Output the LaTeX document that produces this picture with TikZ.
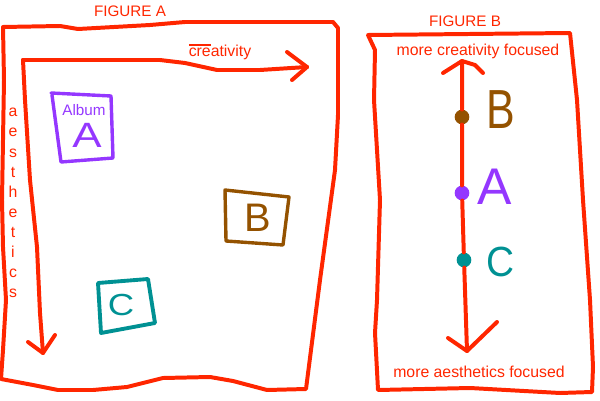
\documentclass[tikz,border=0pt]{standalone}
\usepackage{fontspec}
\setmainfont{Liberation Sans}
\usepackage{xcolor}
\usepackage{tikz}
\usetikzlibrary{positioning}
\definecolor{penred}{RGB}{255,38,0}
\definecolor{penpurple}{RGB}{148,55,255}
\definecolor{penbrown}{RGB}{148,82,0}
\definecolor{penteal}{RGB}{0,145,147}
\tikzset{
    pen/.style={
        draw=penred,
        line width=3.4pt,
        line cap=round,
        line join=round
    }
}
\tikzset{
    box/.style={
        line width=2.9pt,
        line cap=round,
        line join=round
    }
}
\tikzset{
    caption/.style={
        text=penred,
        inner sep=0pt,
        font=\fontsize{13.5}{16}\selectfont
    }
}
\tikzset{
    title/.style={
        text=penred,
        inner sep=0pt,
        font=\fontsize{13}{16}\selectfont
    }
}
\tikzset{
    letter/.style={
        inner sep=0pt
    }
}
\tikzset{
    dot/.style={
        circle,
        inner sep=0pt,
        minimum size=12.5pt
    }
}

\begin{document}
\begin{tikzpicture}[
    x=0.03cm,
    y=-0.03cm
]

\useasboundingbox (0,0) rectangle (600,400);

% ------------------------------------------------------------
% Figure A: frame and axes
% ------------------------------------------------------------

\node[title] (figA) at (130,11) {FIGURE A};
\draw[pen] (3,27) -- (60,26) -- (78,29) -- (150,25) -- (185,22) -- (333,22)
    -- (338,28) -- (338,115) -- (335,170) -- (320,280) -- (306,389)
    -- (267,390) -- (233,381) -- (210,377) -- (163,378) -- (127,387)
    -- (93,390) -- (58,390) -- (33,385) -- (1,379) -- (3,350) -- (6,300)
    -- (3,247) -- (2,200) -- (4,80) -- cycle;

\coordinate (origin) at (23,60);
\coordinate (creaTip) at (307,67);
\coordinate (aestTip) at (43,353);
\draw[pen] (origin) -- (160,60) -- (185,63) -- (217,70) -- (260,70) -- (creaTip);
\draw[pen] (creaTip) -- +(-20,-15) (creaTip) -- +(-15,13);
\draw[pen] (origin) -- (25,100) -- (30,180) -- (37,247) -- (40,313) -- (aestTip);
\draw[pen] (aestTip) -- +(-15,-11) (aestTip) -- +(12,-18);

\node[caption, anchor=base] (creaLabel) at (220,57)
    {\rlap{\rule[0.72em]{1.4em}{0.09em}}creativity};
\foreach \ch [count=\i from 0] in {a,e,s,t,h,e,t,i,c,s}
    \node[caption, anchor=base] (aest\i) at (13,{117+20*\i}) {\ch};

% ------------------------------------------------------------
% Figure A: albums
% ------------------------------------------------------------

\draw[box, draw=penpurple] (51,93) -- (111,96) -- (113,158) -- (61,162) -- (52,95);
\node[text=penpurple, anchor=base, inner sep=0pt, font=\fontsize{13}{15}\selectfont] (album) at (84,116) {Album};
\node[letter, text=penpurple, font=\fontsize{30}{32}\selectfont, xscale=1.25] (boxA) at (87,135) {A};

\draw[box, draw=penbrown] (225,190) -- (289,197) -- (283,245) -- (226,241) -- cycle;
\node[letter, text=penbrown, font=\fontsize{34}{36}\selectfont] (boxB) at (258,218) {B};

\draw[box, draw=penteal, line width=3.3pt] (98,283) -- (148,279) -- (155,323) -- (101,333) -- cycle;
\node[letter, text=penteal, font=\fontsize{26}{28}\selectfont, xscale=1.2] (boxC) at (121,305) {C};

% ------------------------------------------------------------
% Figure B: frame and scale
% ------------------------------------------------------------

\node[title] (figB) at (465,21) {FIGURE B};
\draw[pen] (368,35) -- (570,33) -- (577,100) -- (583,200) -- (590,300)
    -- (593,367) -- (592,392) -- (560,393) -- (470,388) -- (378,390)
    -- (375,333) -- (377,300) -- (380,200) -- (374,100) -- (375,50) -- cycle;

\node[caption, anchor=base] (moreCrea) at (478,56) {more creativity focused};
\node[caption, anchor=base] (moreAest) at (479,377) {more aesthetics focused};

\coordinate (topTip) at (462,61);
\coordinate (botTip) at (467,351);
\node[dot, fill=penbrown] (dotB) at (462,117) {};
\node[dot, fill=penpurple] (dotA) at (462,193) {};
\node[dot, fill=penteal] (dotC) at (464,260) {};
\draw[pen] (topTip) -- (dotB) -- (dotA) -- (dotC) -- (botTip);
\draw[pen] (topTip) -- +(-19,12) (topTip) -- +(13,4) -- +(21,12);
\draw[pen] (botTip) -- +(-19,-13) (botTip) -- +(30,-29);

\node[letter, text=penbrown, font=\fontsize{47}{50}\selectfont, xscale=0.78] (letB) at (501,110) {B};
\node[letter, text=penpurple, font=\fontsize{44}{46}\selectfont] (letA) at (495,187) {A};
\node[letter, text=penteal, font=\fontsize{36}{38}\selectfont, xscale=0.92] (letC) at (501,262) {C};

\end{tikzpicture}
\end{document}
